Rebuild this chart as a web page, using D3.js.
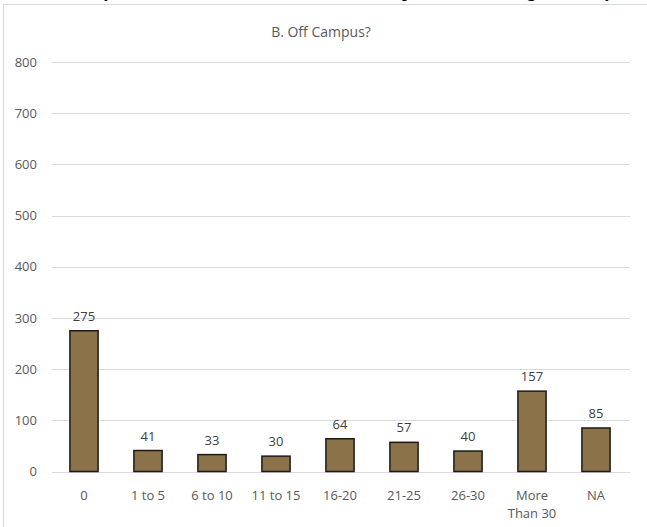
<!DOCTYPE html>
<html><head><meta charset="utf-8">
<script src="https://cdn.jsdelivr.net/npm/d3@7"></script>
<style>body{margin:0;background:#fff;} svg{display:block;}</style>
</head><body>
<script>
const categories = ["0","1 to 5","6 to 10","11 to 15","16-20","21-25","26-30","More Than 30","NA"];
const values = [275,41,33,30,64,57,40,157,85];
const yTicks = [0,100,200,300,400,500,600,700,800];
const title = "B. Off Campus?";

const W = 647, H = 527;
const svg = d3.select("body").append("svg").attr("width",W).attr("height",H);
const font = "'Open Sans', 'Noto Sans', sans-serif";

// clipped heading fragments from the page above
const frag = [["y",104],["p",402],["g",527],["y",605]];
svg.selectAll("text.frag").data(frag).enter().append("text")
  .attr("x",d=>d[1]).attr("y",-3).attr("font-family","'Liberation Serif', serif")
  .attr("font-weight","bold").attr("font-size",17).attr("fill","#000").text(d=>d[0]);

// chart frame
svg.append("rect").attr("x",3.5).attr("y",4.5).attr("width",W).attr("height",H)
  .attr("fill","none").attr("stroke","#d9d9d9").attr("stroke-width",1);

const x = d3.scaleBand().domain(categories).range([52,628]).paddingInner(0.56).paddingOuter(0.28);
const y = d3.scaleLinear().domain([0,800]).range([471.5,62]);

// gridlines
svg.append("g").selectAll("line").data(yTicks).enter().append("line")
  .attr("x1",52).attr("x2",630).attr("y1",d=>Math.round(y(d))+0.5).attr("y2",d=>Math.round(y(d))+0.5)
  .attr("stroke","#d9d9d9").attr("stroke-width",1);

// y axis labels
const yAxis = d3.axisLeft(y).tickValues(yTicks).tickSize(0).tickPadding(0);
const ga = svg.append("g").attr("transform","translate(37,0)").call(yAxis);
ga.select(".domain").remove();
ga.selectAll("text").attr("font-family",font).attr("font-size",13).attr("fill","#595959");

// bars
svg.append("g").selectAll("rect").data(values).enter().append("rect")
  .attr("x",(d,i)=>x(categories[i])).attr("width",x.bandwidth())
  .attr("y",d=>y(d)).attr("height",d=>y(0)-y(d))
  .attr("fill","#8b7249").attr("stroke","#1a1a1a").attr("stroke-width",1.5);

// data labels
svg.append("g").selectAll("text").data(values).enter().append("text")
  .attr("x",(d,i)=>x(categories[i])+x.bandwidth()/2).attr("y",d=>y(d)-10)
  .attr("text-anchor","middle").attr("font-family",font).attr("font-size",13).attr("fill","#404040")
  .text(d=>d);

// x axis labels
const xAxis = d3.axisBottom(x).tickSize(0).tickPadding(0);
const gx = svg.append("g").attr("transform","translate(0,491)").call(xAxis);
gx.select(".domain").remove();
gx.selectAll("text").attr("font-family",font).attr("font-size",13).attr("fill","#595959")
  .each(function(d){
    const t = d3.select(this);
    if (d === "More Than 30") {
      t.text(null);
      t.append("tspan").attr("x",0).attr("dy","0.71em").text("More");
      t.append("tspan").attr("x",0).attr("dy","1.35em").text("Than 30");
    }
  });

// title
svg.append("text").attr("x",321).attr("y",37).attr("text-anchor","middle")
  .attr("font-family",font).attr("font-size",14).attr("fill","#595959").text(title);
</script>
</body></html>
